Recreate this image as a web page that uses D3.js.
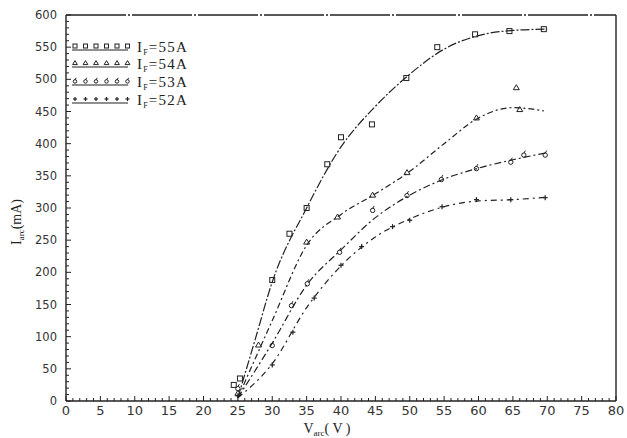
<!DOCTYPE html>
<html>
<head>
<meta charset="utf-8">
<script src="https://cdn.jsdelivr.net/npm/d3@7"></script>
<style>
  html, body { margin: 0; padding: 0; background: #fff; }
  svg { display: block; }
  .tick-label { font-family: "DejaVu Sans", sans-serif; fill: #333; }
  .serif { font-family: "Liberation Serif", "DejaVu Serif", serif; fill: #222; }
</style>
</head>
<body>
<svg id="chart" width="627" height="438"></svg>
<script>
// Arc voltage (V) vs arc current (mA) for four filament currents I_F
const seriesNames = ["55A", "54A", "53A", "52A"];

// measured points [V, mA]
const pts55 = [[24.4,25],[25.3,35],[30,188],[32.5,260],[35,300],[38,368],[40,410],[44.5,430],[49.5,502],[54,550],[59.5,570],[64.5,575],[69.5,578]];
const pts54 = [[25,12],[28,87],[35,247],[39.5,286],[44.6,320],[49.6,355],[59.7,440],[65.5,487],[66,453]];
const pts53 = [[25,20],[30,87],[32.8,149],[35.1,183],[39.8,232],[44.6,297],[49.6,320],[54.6,345],[59.7,362],[64.7,372],[66.6,383],[69.7,383]];
const pts52 = [[25,8],[30,56],[33,107],[36.1,160],[40,211],[43,240],[47.5,271],[50,281],[54.7,302],[59.7,313],[64.7,313],[69.7,316]];

// fitted curves [V, mA]
const fit55 = [[25,5],[27.5,95],[30,185],[35,300],[40,395],[45,458],[50,508],[55,547],[60,568],[65,576],[70,578]];
const fit54 = [[25,5],[30,125],[35,242],[40,290],[45,322],[50,357],[55,400],[60,440],[65,456],[69.5,451]];
const fit53 = [[25,5],[30,90],[35,180],[40,235],[45,285],[50,320],[55,345],[60,362],[65,375],[70,386]];
const fit52 = [[25,5],[30,58],[35,145],[40,210],[45,255],[50,283],[55,302],[60,311],[65,313],[70,317]];

const xTicks = d3.range(0, 81, 5);
const yTicks = d3.range(0, 601, 50);

const svg = d3.select("#chart");
const x = d3.scaleLinear().domain([0, 80]).range([66, 616]);
const y = d3.scaleLinear().domain([0, 600]).range([401, 15]);

const ink = "#222";

// frame: left, bottom, right solid; top slightly broken
svg.append("line").attr("x1", x(0)).attr("x2", x(0)).attr("y1", y(0)).attr("y2", y(600))
  .attr("stroke", ink).attr("stroke-width", 1.4);
svg.append("line").attr("x1", x(0)).attr("x2", x(80)).attr("y1", y(0)).attr("y2", y(0))
  .attr("stroke", ink).attr("stroke-width", 1.4);
svg.append("line").attr("x1", x(80)).attr("x2", x(80)).attr("y1", y(0)).attr("y2", y(600))
  .attr("stroke", ink).attr("stroke-width", 1.4);
svg.append("line").attr("x1", x(0)).attr("x2", x(80)).attr("y1", y(600)).attr("y2", y(600))
  .attr("stroke", ink).attr("stroke-width", 1.3).attr("stroke-dasharray", "60,2,2,2");

// minor ticks (inward)
const xMinor = d3.range(0, 81, 1);
svg.append("g").selectAll("line").data(xMinor).join("line")
  .attr("x1", d => x(d)).attr("x2", d => x(d))
  .attr("y1", y(0)).attr("y2", d => y(0) - (d % 5 === 0 ? 5 : 3))
  .attr("stroke", ink).attr("stroke-width", 1);
const yMinor = d3.range(0, 601, 10);
svg.append("g").selectAll("line").data(yMinor).join("line")
  .attr("x1", x(0)).attr("x2", d => x(0) + (d % 50 === 0 ? 5 : 3))
  .attr("y1", d => y(d)).attr("y2", d => y(d))
  .attr("stroke", ink).attr("stroke-width", 1);

// tick labels
svg.append("g").selectAll("text").data(xTicks).join("text")
  .attr("class", "tick-label")
  .attr("x", d => x(d)).attr("y", 415)
  .attr("text-anchor", "middle").attr("font-size", 13)
  .text(d => d);
svg.append("g").selectAll("text").data(yTicks).join("text")
  .attr("class", "tick-label")
  .attr("x", 57).attr("y", d => y(d) + 4)
  .attr("text-anchor", "end").attr("font-size", 11.5)
  .text(d => d);

// axis titles
const yTitle = svg.append("text").attr("class", "serif")
  .attr("transform", "translate(21,222) rotate(-90)")
  .attr("text-anchor", "middle").attr("font-size", 14);
yTitle.append("tspan").text("I");
yTitle.append("tspan").attr("font-size", 9).attr("dy", 3).text("arc");
yTitle.append("tspan").attr("dy", -3).text("(mA)");

const xTitle = svg.append("text").attr("class", "serif")
  .attr("x", 327).attr("y", 433)
  .attr("text-anchor", "middle").attr("font-size", 14);
xTitle.append("tspan").text("V");
xTitle.append("tspan").attr("font-size", 9).attr("dy", 3).text("arc");
xTitle.append("tspan").attr("dy", -3).text("(  V  )");

// marker drawing
function marker(g, type, cx, cy, s = 1) {
  if (type === "square") {
    g.append("rect").attr("x", cx - 2.5 * s).attr("y", cy - 2.5 * s).attr("width", 5 * s).attr("height", 5 * s)
      .attr("fill", "none").attr("stroke", ink).attr("stroke-width", 1);
  } else if (type === "triangle") {
    g.append("path").attr("d", `M${cx},${cy - 3 * s}L${cx + 3 * s},${cy + 2 * s}L${cx - 3 * s},${cy + 2 * s}Z`)
      .attr("fill", "none").attr("stroke", ink).attr("stroke-width", 1);
  } else if (type === "drop") {
    g.append("circle").attr("cx", cx).attr("cy", cy + 0.5 * s).attr("r", 2.2 * s)
      .attr("fill", "none").attr("stroke", ink).attr("stroke-width", 1);
    g.append("line").attr("x1", cx).attr("x2", cx + 1.5 * s).attr("y1", cy - 1.5 * s).attr("y2", cy - 4 * s)
      .attr("stroke", ink).attr("stroke-width", 1);
  } else {
    g.append("line").attr("x1", cx - 2.5 * s).attr("x2", cx + 2.5 * s).attr("y1", cy).attr("y2", cy)
      .attr("stroke", ink).attr("stroke-width", 1.2);
    g.append("line").attr("x1", cx).attr("x2", cx).attr("y1", cy - 2.5 * s).attr("y2", cy + 2.5 * s)
      .attr("stroke", ink).attr("stroke-width", 1.2);
  }
}

const series = [
  { name: seriesNames[0], pts: pts55, fit: fit55, m: "square",   dash: "9,2,2,2" },
  { name: seriesNames[1], pts: pts54, fit: fit54, m: "triangle", dash: "6,3,2,3" },
  { name: seriesNames[2], pts: pts53, fit: fit53, m: "drop",     dash: "7,3,2,3" },
  { name: seriesNames[3], pts: pts52, fit: fit52, m: "plus",     dash: "6,4,2,4" }
];

const line = d3.line().x(d => x(d[0])).y(d => y(d[1])).curve(d3.curveMonotoneX);

series.forEach(s => {
  svg.append("path").datum(s.fit)
    .attr("d", line)
    .attr("fill", "none").attr("stroke", ink).attr("stroke-width", 1.2)
    .attr("stroke-dasharray", s.dash);
  const g = svg.append("g");
  s.pts.forEach(p => marker(g, s.m, x(p[0]), y(p[1])));
});

// legend
const legRows = [47, 64, 82, 100];
series.forEach((s, i) => {
  const ly = legRows[i];
  const g = svg.append("g");
  g.append("line").attr("x1", 72).attr("x2", 128).attr("y1", ly + 3).attr("y2", ly + 3)
    .attr("stroke", ink).attr("stroke-width", 1.2);
  d3.range(6).forEach(k => marker(g, s.m, 75 + k * 10.5, ly - 1, 0.8));
  const t = g.append("text").attr("class", "serif")
    .attr("x", 137).attr("y", ly + 5).attr("font-size", 15)
    .attr("letter-spacing", 1.2);
  t.append("tspan").text("I");
  t.append("tspan").attr("font-size", 8).attr("dy", 3).text("F");
  t.append("tspan").attr("dy", -3).text("=" + s.name);
});
</script>
</body>
</html>
